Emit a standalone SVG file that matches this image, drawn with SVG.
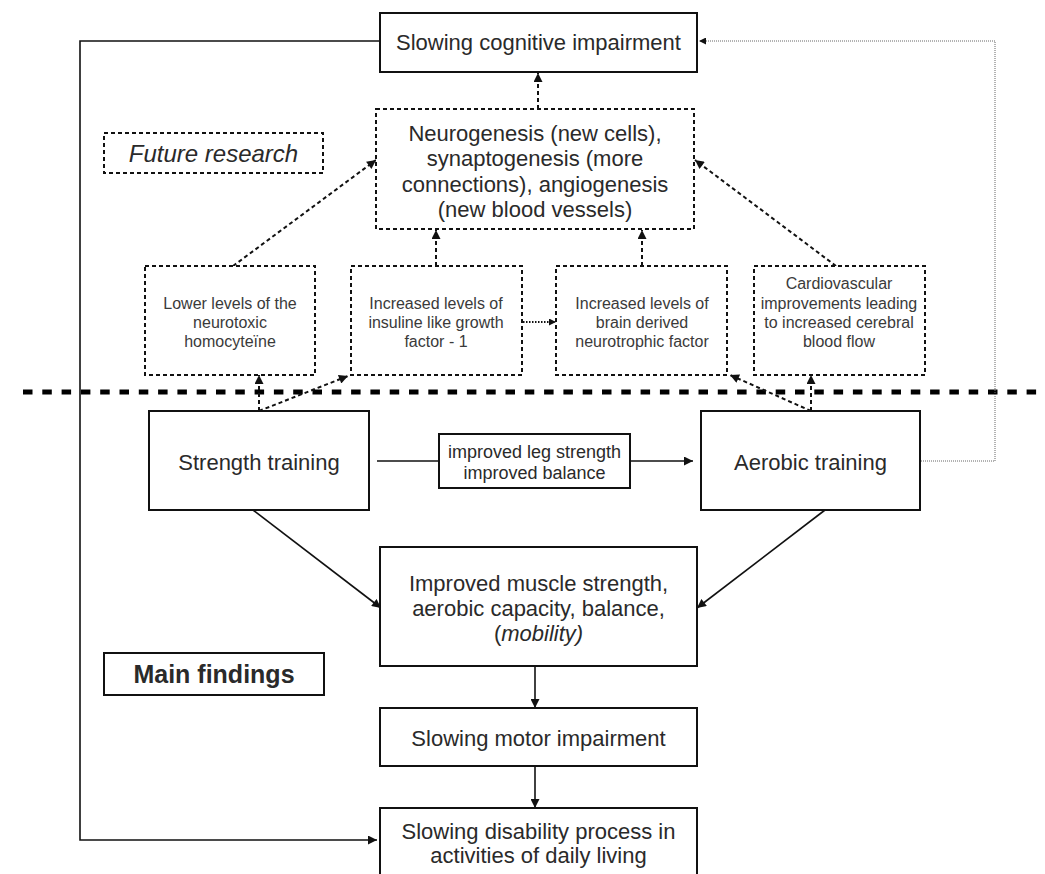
<svg xmlns="http://www.w3.org/2000/svg" width="1045" height="874" viewBox="0 0 1045 874">
<style>
.box{fill:#fff;stroke:#111;stroke-width:2}
.dbox{fill:#fff;stroke:#111;stroke-width:2;stroke-dasharray:4 3}
.t{font-family:"Liberation Sans",Arial,sans-serif;fill:#2a2a2a;text-anchor:middle}
.big{font-size:22px}
.sm{font-size:16px;fill:#3a3a3a}
.mid{font-size:18px}
.solid{fill:none;stroke:#111;stroke-width:1.6}
.dash{fill:none;stroke:#111;stroke-width:2;stroke-dasharray:4 3}
.dot{fill:none;stroke:#111;stroke-width:2;stroke-dasharray:1.5 1.5}
.gray{fill:none;stroke:#666;stroke-width:1;stroke-dasharray:1 1}
</style>
<defs>
<marker id="ah" viewBox="0 0 10 10" refX="10" refY="5" markerWidth="10" markerHeight="9" markerUnits="userSpaceOnUse" orient="auto">
<path d="M0,0 L10,5 L0,10 z" fill="#111"/>
</marker>
<marker id="ahs" viewBox="0 0 10 10" refX="10" refY="5" markerWidth="8" markerHeight="7" markerUnits="userSpaceOnUse" orient="auto">
<path d="M0,0 L10,5 L0,10 z" fill="#111"/>
</marker>
</defs>

<line x1="23" y1="392" x2="1040" y2="392" stroke="#000" stroke-width="5" stroke-dasharray="9.5 9.8"/>

<g id="connectors">
<polyline class="solid" points="380,41 80,41 80,840 377,840" marker-end="url(#ah)"/>
<polyline class="gray" points="921,461 995,461 995,41 699,41" marker-end="url(#ahs)"/>
<line class="dash" x1="538" y1="109" x2="538" y2="73" marker-end="url(#ah)"/>
<line class="dash" x1="233" y1="266" x2="376" y2="160" marker-end="url(#ah)"/>
<line class="dash" x1="436" y1="266" x2="436" y2="230" marker-end="url(#ah)"/>
<line class="dash" x1="642" y1="266" x2="642" y2="230" marker-end="url(#ah)"/>
<line class="dash" x1="836" y1="266" x2="695" y2="160" marker-end="url(#ah)"/>
<line class="dot" x1="523" y1="322" x2="556" y2="322" marker-end="url(#ahs)"/>
<line class="dash" x1="259" y1="411" x2="259" y2="375" marker-end="url(#ah)"/>
<line class="dash" x1="259" y1="411" x2="348" y2="376" marker-end="url(#ah)"/>
<line class="dash" x1="811" y1="411" x2="811" y2="375" marker-end="url(#ah)"/>
<line class="dash" x1="811" y1="411" x2="730" y2="375" marker-end="url(#ah)"/>
<line class="solid" x1="377" y1="461" x2="439" y2="461"/>
<line class="solid" x1="630" y1="461" x2="693" y2="461" marker-end="url(#ah)"/>
<line class="solid" x1="253" y1="510" x2="381" y2="608" marker-end="url(#ah)"/>
<line class="solid" x1="825" y1="510" x2="697" y2="608" marker-end="url(#ah)"/>
<line class="solid" x1="535" y1="666" x2="535" y2="708" marker-end="url(#ah)"/>
<line class="solid" x1="535" y1="766" x2="535" y2="808" marker-end="url(#ah)"/>
</g>

<g id="cognitive">
<rect class="box" x="380" y="13" width="317" height="59"/>
<text class="t big" x="538.5" y="50">Slowing cognitive impairment</text>
</g>

<g id="future">
<rect class="dbox" x="104" y="133" width="219" height="40"/>
<text class="t" x="213.5" y="161.5" font-size="24" font-style="italic">Future research</text>
</g>

<g id="neuro">
<rect class="dbox" x="376" y="109" width="318" height="120"/>
<text class="t big" x="535" y="141">Neurogenesis (new cells),</text>
<text class="t big" x="535" y="166">synaptogenesis (more</text>
<text class="t big" x="535" y="192">connections), angiogenesis</text>
<text class="t big" x="535" y="217">(new blood vessels)</text>
</g>

<g id="homocysteine">
<rect class="dbox" x="145" y="266" width="170" height="109"/>
<text class="t sm" x="230" y="308.5">Lower levels of the</text>
<text class="t sm" x="230" y="327.5">neurotoxic</text>
<text class="t sm" x="230" y="346.5">homocyteïne</text>
</g>

<g id="igf1">
<rect class="dbox" x="351" y="266" width="171" height="109"/>
<text class="t sm" x="436" y="308.5">Increased levels of</text>
<text class="t sm" x="436" y="327.5">insuline like growth</text>
<text class="t sm" x="436" y="346.5">factor - 1</text>
</g>

<g id="bdnf">
<rect class="dbox" x="556" y="266" width="171" height="109"/>
<text class="t sm" x="642" y="308.5">Increased levels of</text>
<text class="t sm" x="642" y="327.5">brain derived</text>
<text class="t sm" x="642" y="346.5">neurotrophic factor</text>
</g>

<g id="cardio">
<rect class="dbox" x="754" y="266" width="171" height="109"/>
<text class="t sm" x="839" y="289">Cardiovascular</text>
<text class="t sm" x="839" y="308.5">improvements leading</text>
<text class="t sm" x="839" y="327.5">to increased cerebral</text>
<text class="t sm" x="839" y="346.5">blood flow</text>
</g>

<g id="strength">
<rect class="box" x="149" y="411" width="220" height="99"/>
<text class="t big" x="259" y="469.5">Strength training</text>
</g>

<g id="legbalance">
<rect class="box" x="439" y="434" width="191" height="54"/>
<text class="t mid" x="534.5" y="458">improved leg strength</text>
<text class="t mid" x="534.5" y="479">improved balance</text>
</g>

<g id="aerobic">
<rect class="box" x="701" y="411" width="219" height="99"/>
<text class="t big" x="810.5" y="469.5">Aerobic training</text>
</g>

<g id="improved">
<rect class="box" x="380" y="547" width="317" height="119"/>
<text class="t big" x="538.5" y="591">Improved muscle strength,</text>
<text class="t big" x="538.5" y="616">aerobic capacity, balance,</text>
<text class="t big" x="538.5" y="641">(<tspan font-style="italic">mobility)</tspan></text>
</g>

<g id="mainfindings">
<rect class="box" x="104" y="653" width="220" height="42"/>
<text class="t" x="214" y="683" font-size="25" font-weight="bold" fill="#000">Main findings</text>
</g>

<g id="motor">
<rect class="box" x="380" y="708" width="317" height="58"/>
<text class="t big" x="538.5" y="745.5">Slowing motor impairment</text>
</g>

<g id="disability">
<rect class="box" x="380" y="808" width="317" height="80"/>
<text class="t big" x="538.5" y="839">Slowing disability process in</text>
<text class="t big" x="538.5" y="863">activities of daily living</text>
</g>
</svg>
